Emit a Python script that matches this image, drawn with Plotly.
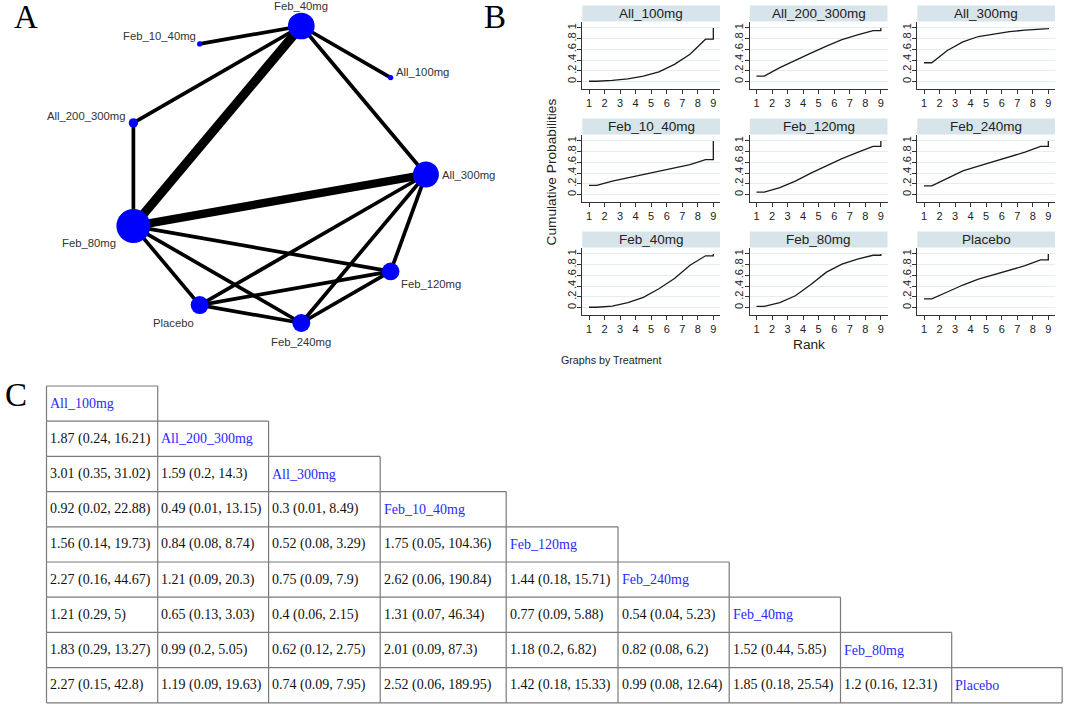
import math
import plotly.graph_objects as go

W, H = 1065, 704

# ---------------- data ----------------
treatments = ["All_100mg", "All_200_300mg", "All_300mg", "Feb_10_40mg",
              "Feb_120mg", "Feb_240mg", "Feb_40mg", "Feb_80mg", "Placebo"]
ranks = [1, 2, 3, 4, 5, 6, 7, 8, 9]

cum_all_100mg = [0.005, 0.02, 0.05, 0.10, 0.18, 0.32, 0.51, 0.79, 1.0]
cum_all_200_300mg = [0.10, 0.26, 0.40, 0.53, 0.66, 0.78, 0.87, 0.95, 1.0]
cum_all_300mg = [0.35, 0.58, 0.74, 0.84, 0.89, 0.93, 0.96, 0.985, 1.0]
cum_feb_10_40mg = [0.17, 0.25, 0.31, 0.37, 0.43, 0.49, 0.56, 0.65, 1.0]
cum_feb_120mg = [0.045, 0.13, 0.25, 0.40, 0.54, 0.67, 0.785, 0.90, 1.0]
cum_feb_240mg = [0.16, 0.30, 0.44, 0.53, 0.62, 0.70, 0.79, 0.90, 1.0]
cum_feb_40mg = [0.005, 0.025, 0.09, 0.19, 0.35, 0.54, 0.79, 0.965, 1.0]
cum_feb_80mg = [0.02, 0.09, 0.22, 0.43, 0.66, 0.81, 0.905, 0.975, 1.0]
cum_placebo = [0.16, 0.29, 0.42, 0.53, 0.61, 0.69, 0.78, 0.89, 1.0]

cum_series = [cum_all_100mg, cum_all_200_300mg, cum_all_300mg, cum_feb_10_40mg,
              cum_feb_120mg, cum_feb_240mg, cum_feb_40mg, cum_feb_80mg, cum_placebo]

ytick_vals = [0, 0.2, 0.4, 0.6, 0.8, 1]
ytick_text = ["0", ".2", ".4", ".6", ".8", "1"]

# network (nodes in circular order)
network_order = ["All_300mg", "All_100mg", "Feb_40mg", "Feb_10_40mg", "All_200_300mg",
                 "Feb_80mg", "Placebo", "Feb_240mg", "Feb_120mg"]
node_weight = [676, 28, 713, 28, 87, 1156, 324, 324, 313]
edge_from = ["Feb_40mg", "Feb_40mg", "Feb_40mg", "Feb_40mg", "Feb_40mg",
             "All_200_300mg", "Feb_80mg", "Feb_80mg", "Feb_80mg", "Feb_80mg",
             "All_300mg", "All_300mg", "All_300mg", "Feb_120mg", "Feb_120mg", "Placebo"]
edge_to = ["Feb_10_40mg", "All_100mg", "All_200_300mg", "Feb_80mg", "All_300mg",
           "Feb_80mg", "All_300mg", "Feb_120mg", "Feb_240mg", "Placebo",
           "Placebo", "Feb_240mg", "Feb_120mg", "Placebo", "Feb_240mg", "Feb_240mg"]
edge_studies = [1, 1, 1, 6, 1, 1, 5, 1, 1, 1, 1, 1, 1, 1, 1, 1]

# league table (row treatment vs column treatment)
league_est = [
    [1.87],
    [3.01, 1.59],
    [0.92, 0.49, 0.3],
    [1.56, 0.84, 0.52, 1.75],
    [2.27, 1.21, 0.75, 2.62, 1.44],
    [1.21, 0.65, 0.4, 1.31, 0.77, 0.54],
    [1.83, 0.99, 0.62, 2.01, 1.18, 0.82, 1.52],
    [2.27, 1.19, 0.74, 2.52, 1.42, 0.99, 1.85, 1.2],
]
league_lo = [
    [0.24],
    [0.35, 0.2],
    [0.02, 0.01, 0.01],
    [0.14, 0.08, 0.08, 0.05],
    [0.16, 0.09, 0.09, 0.06, 0.18],
    [0.29, 0.13, 0.06, 0.07, 0.09, 0.04],
    [0.29, 0.2, 0.12, 0.09, 0.2, 0.08, 0.44],
    [0.15, 0.09, 0.09, 0.06, 0.18, 0.08, 0.18, 0.16],
]
league_hi = [
    [16.21],
    [31.02, 14.3],
    [22.88, 13.15, 8.49],
    [19.73, 8.74, 3.29, 104.36],
    [44.67, 20.3, 7.9, 190.84, 15.71],
    [5, 3.03, 2.15, 46.34, 5.88, 5.23],
    [13.27, 5.05, 2.75, 87.3, 6.82, 6.2, 5.85],
    [42.8, 19.63, 7.95, 189.95, 15.33, 12.64, 25.54, 12.31],
]

# ---------------- style / layout constants ----------------
SANS = "Liberation Sans, Arial, sans-serif"
SERIF = "Liberation Serif, Times New Roman, serif"
DARK = "#222222"
BLUE = "#0000ff"

fig = go.Figure()
annotations = []
shapes = []

# pixel-coordinate axis for panels A and C
PX, PY = "x10", "y10"


def add_px_trace(tr):
    tr.update(xaxis=PX, yaxis=PY)
    fig.add_trace(tr)


# ---------------- Panel A: network ----------------
cx, cy, rad = 275.1, 174.5, 150.8
node_pos = {}
for k, name in enumerate(network_order):
    ang = math.radians(40 * k)
    node_pos[name] = (cx + rad * math.cos(ang), cy - rad * math.sin(ang))

for a, b, n in zip(edge_from, edge_to, edge_studies):
    (x0, y0), (x1, y1) = node_pos[a], node_pos[b]
    add_px_trace(go.Scatter(x=[x0, x1], y=[y0, y1], mode="lines",
                            line=dict(color="black", width=3.7 * math.sqrt(n)),
                            hoverinfo="skip", showlegend=False))

add_px_trace(go.Scatter(
    x=[node_pos[n][0] for n in network_order],
    y=[node_pos[n][1] for n in network_order],
    mode="markers",
    marker=dict(color=BLUE, opacity=1, size=[math.sqrt(w) for w in node_weight],
                line=dict(width=0)),
    hoverinfo="skip", showlegend=False))

label_layout = {
    "Feb_40mg": (0, -19.5, "center"),
    "Feb_10_40mg": (-2, -8, "right"),
    "All_100mg": (3, -6, "left"),
    "All_200_300mg": (-5, -7, "right"),
    "All_300mg": (14, 0.5, "left"),
    "Feb_80mg": (-15, 17, "right"),
    "Feb_120mg": (8, 12.5, "left"),
    "Placebo": (-26, 17.5, "center"),
    "Feb_240mg": (0, 18.5, "center"),
}
for name in network_order:
    dx, dy, anc = label_layout[name]
    x, y = node_pos[name]
    annotations.append(dict(x=x + dx, y=y + dy, xref=PX, yref=PY, text=name,
                            showarrow=False, xanchor=anc, yanchor="middle",
                            font=dict(family=SANS, size=11.3, color="#333333")))

# ---------------- Panel B: cumulative ranking ----------------
col_left = [582.3, 749.8, 917.3]
panel_w = 137.7
row_strip_top = [5.5, 118.5, 231.5]
strip_h = 16
plot_h = 67

layout_axes = {}
for i, (t, cum) in enumerate(zip(treatments, cum_series)):
    r, c = divmod(i, 3)
    k = i + 1
    xl = col_left[c]
    xr = xl + panel_w
    yt = row_strip_top[r] + strip_h
    yb = yt + plot_h
    xs = [ranks[0]] + [rk + 0.5 for rk in ranks[:-1]] + [ranks[-1], ranks[-1]]
    ys = [cum[0]] + cum[:-1] + [cum[-2], cum[-1]]
    fig.add_trace(go.Scatter(x=xs, y=ys, mode="lines",
                             line=dict(color="#1a1a1a", width=1.3),
                             xaxis=f"x{k}" if k > 1 else "x",
                             yaxis=f"y{k}" if k > 1 else "y",
                             hoverinfo="skip", showlegend=False))
    xa = "xaxis" if k == 1 else f"xaxis{k}"
    ya = "yaxis" if k == 1 else f"yaxis{k}"
    layout_axes[xa] = dict(
        domain=[xl / W, xr / W], range=[0.569, 9.43], anchor="y" if k == 1 else f"y{k}",
        tickmode="array", tickvals=ranks, ticktext=[str(v) for v in ranks],
        ticks="outside", ticklen=4, tickwidth=1, tickcolor="#333333",
        showline=True, linecolor="#333333", linewidth=1,
        showgrid=False, zeroline=False, fixedrange=True,
        tickfont=dict(family=SANS, size=11, color=DARK))
    layout_axes[ya] = dict(
        domain=[1 - yb / H, 1 - yt / H], range=[-0.13, 1.12], anchor="x" if k == 1 else f"x{k}",
        tickmode="array", tickvals=ytick_vals, ticktext=ytick_text, tickangle=-90,
        ticks="outside", ticklen=4, tickwidth=1, tickcolor="#333333",
        ticklabelstandoff=-3,
        showline=True, linecolor="#333333", linewidth=1,
        showgrid=True, gridcolor="#e4eef0", gridwidth=1, zeroline=False, fixedrange=True,
        tickfont=dict(family=SANS, size=11, color=DARK))
    shapes.append(dict(type="rect", xref="paper", yref="paper",
                       x0=xl / W, x1=xr / W,
                       y0=1 - (row_strip_top[r] + strip_h) / H, y1=1 - row_strip_top[r] / H,
                       fillcolor="#d7e5ea", line=dict(width=0), layer="below"))
    annotations.append(dict(x=(xl + xr) / 2 / W, y=1 - (row_strip_top[r] + strip_h / 2) / H,
                            xref="paper", yref="paper", text=t, showarrow=False,
                            xanchor="center", yanchor="middle",
                            font=dict(family=SANS, size=13.5, color=DARK)))

annotations.append(dict(x=550.5 / W, y=1 - 172 / H, xref="paper", yref="paper",
                        text="Cumulative Probabilities", textangle=-90, showarrow=False,
                        xanchor="center", yanchor="middle",
                        font=dict(family=SANS, size=13.7, color=DARK)))
annotations.append(dict(x=808.5 / W, y=1 - 344 / H, xref="paper", yref="paper",
                        text="Rank", showarrow=False, xanchor="center", yanchor="middle",
                        font=dict(family=SANS, size=13.7, color=DARK)))
annotations.append(dict(x=559 / W, y=1 - 360 / H, xref="paper", yref="paper",
                        text="Graphs by Treatment", showarrow=False, xanchor="left",
                        yanchor="middle", font=dict(family=SANS, size=10.7, color=DARK)))

# ---------------- Panel C: league table ----------------
col_edges = [46.5, 157.7, 268.6, 380.2, 506.2, 618.0, 729.2, 840.5, 951.7, 1062.2]
row_top0 = 386.0
row_h = 35.2
n = len(treatments)

gx, gy = [], []
for i in range(n):
    top = row_top0 + i * row_h
    bot = top + row_h
    gx += [col_edges[0], col_edges[i + 1], None]
    gy += [top, top, None]
    for j in range(i + 2):
        gx += [col_edges[j], col_edges[j], None]
        gy += [top, bot, None]
last_bot = row_top0 + n * row_h
gx += [col_edges[0], col_edges[n], None]
gy += [last_bot, last_bot, None]
add_px_trace(go.Scatter(x=gx, y=gy, mode="lines", line=dict(color="#7a7a7a", width=1.2),
                        hoverinfo="skip", showlegend=False))

for i in range(n):
    yc = row_top0 + i * row_h + row_h / 2
    if i > 0:
        for j in range(i):
            est, lo, hi = league_est[i - 1][j], league_lo[i - 1][j], league_hi[i - 1][j]
            annotations.append(dict(x=col_edges[j] + 1.5, y=yc, xref=PX, yref=PY,
                                    text=f"{est:g} ({lo:g}, {hi:g})", showarrow=False,
                                    xanchor="left", yanchor="middle",
                                    font=dict(family=SERIF, size=14, color="#111111")))
    annotations.append(dict(x=col_edges[i] + 1.5, y=yc, xref=PX, yref=PY,
                            text=treatments[i], showarrow=False,
                            xanchor="left", yanchor="middle",
                            font=dict(family=SERIF, size=14, color="#2a2aff")))

# ---------------- panel letters ----------------
for letter, lx, ly in [("A", 26, 17), ("B", 495, 17), ("C", 16, 395)]:
    annotations.append(dict(x=lx / W, y=1 - ly / H, xref="paper", yref="paper",
                            text=letter, showarrow=False, xanchor="center", yanchor="middle",
                            font=dict(family=SERIF, size=33, color="black")))

layout_axes["xaxis10"] = dict(domain=[0, 1], range=[0, W], visible=False, anchor="y10",
                              fixedrange=True)
layout_axes["yaxis10"] = dict(domain=[0, 1], range=[H, 0], visible=False, anchor="x10",
                              fixedrange=True)

fig.update_layout(
    width=W, height=H, autosize=False,
    margin=dict(l=0, r=0, t=0, b=0),
    paper_bgcolor="white", plot_bgcolor="rgba(0,0,0,0)",
    hovermode=False, showlegend=False,
    annotations=annotations, shapes=shapes,
    **layout_axes,
)

fig.write_html("out.html", config={"displayModeBar": False},
               post_script="document.body.style.margin='0px';document.body.style.overflow='hidden';")
